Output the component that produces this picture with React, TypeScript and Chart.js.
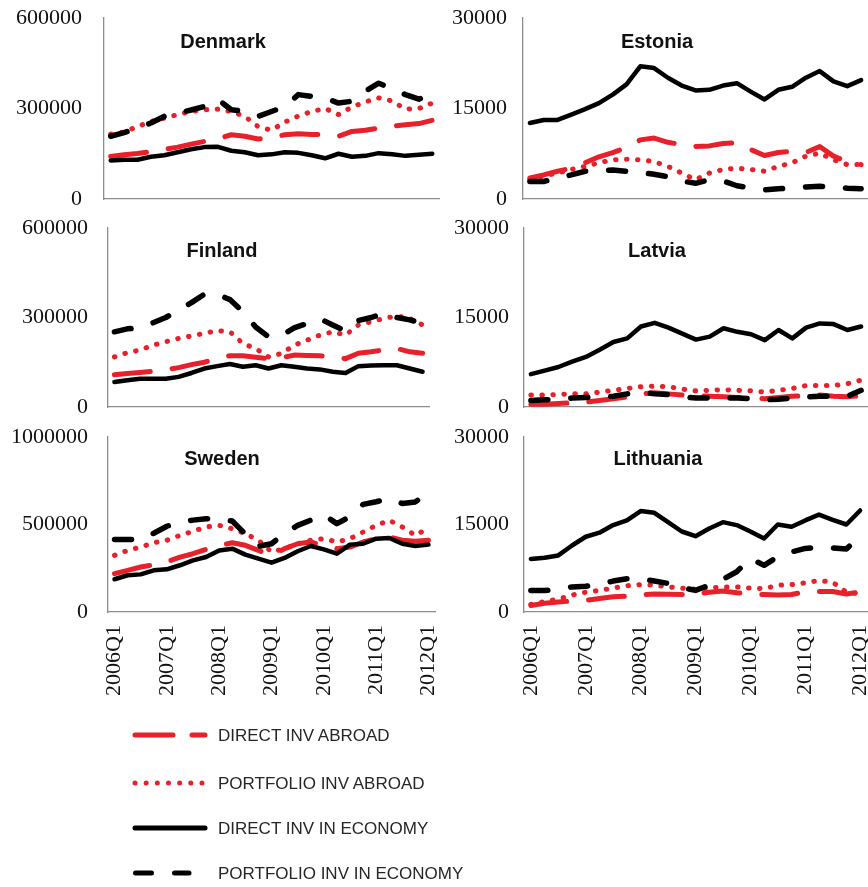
import React, { useEffect, useRef } from "react";
import { Chart, registerables } from "chart.js";

Chart.register(...registerables);

// ---------- DATA ----------
const QUARTERS = [
  "2006Q1", "2006Q2", "2006Q3", "2006Q4",
  "2007Q1", "2007Q2", "2007Q3", "2007Q4",
  "2008Q1", "2008Q2", "2008Q3", "2008Q4",
  "2009Q1", "2009Q2", "2009Q3", "2009Q4",
  "2010Q1", "2010Q2", "2010Q3", "2010Q4",
  "2011Q1", "2011Q2", "2011Q3", "2011Q4",
  "2012Q1",
];

const SERIES_NAMES = [
  "DIRECT INV ABROAD",
  "PORTFOLIO INV ABROAD",
  "DIRECT INV IN ECONOMY",
  "PORTFOLIO INV IN ECONOMY",
];

// Denmark
const DK_DIRECT_ABROAD = [141000, 147000, 151000, 157000, 164000, 172000, 182000, 191000, 200000, 213000, 208000, 199000, 203000, 213000, 216000, 214000, 213000, 208000, 224000, 228000, 235000, 241000, 246000, 250000, 261000];
const DK_PORTFOLIO_ABROAD = [215000, 222000, 240000, 257000, 268000, 280000, 290000, 296000, 298000, 290000, 274000, 240000, 228000, 255000, 275000, 290000, 300000, 280000, 305000, 322000, 335000, 325000, 298000, 300000, 318000];
const DK_DIRECT_ECONOMY = [128000, 130000, 130000, 140000, 145000, 155000, 165000, 172000, 173000, 160000, 155000, 145000, 148000, 155000, 153000, 145000, 135000, 150000, 140000, 143000, 152000, 148000, 143000, 147000, 150000];
const DK_PORTFOLIO_ECONOMY = [208000, 220000, 235000, 252000, 274000, 285000, 295000, 307000, 330000, 296000, 290000, 274000, 290000, 307000, 346000, 340000, 335000, 318000, 324000, 357000, 384000, 365000, 346000, 331000, 351000];

// Estonia
const EE_DIRECT_ABROAD = [3500, 4000, 4600, 5100, 6000, 7000, 7700, 8500, 9800, 10100, 9400, 9000, 8700, 8800, 9200, 9300, 8200, 7200, 7700, 7900, 7700, 8700, 7100, 6200, 5700];
const EE_PORTFOLIO_ABROAD = [3200, 3800, 4300, 4900, 5400, 6000, 6500, 6600, 6500, 6200, 5400, 4300, 3200, 4300, 4900, 5100, 4900, 4600, 5400, 6000, 7100, 7600, 6500, 5700, 5700];
const EE_DIRECT_ECONOMY = [12600, 13100, 13100, 14000, 14900, 15900, 17300, 19000, 22000, 21700, 20100, 18800, 18000, 18100, 18800, 19200, 17800, 16500, 18100, 18600, 20100, 21200, 19500, 18700, 19700];
const EE_PORTFOLIO_ECONOMY = [2900, 2900, 3500, 4000, 4600, 4700, 4800, 4600, 4400, 4100, 3700, 3000, 2600, 3200, 3000, 2200, 1800, 1500, 1700, 1800, 2000, 2100, 2000, 1800, 1700];

// Finland
const FI_DIRECT_ABROAD = [108000, 112000, 116000, 120000, 125000, 132000, 142000, 150000, 162000, 172000, 172000, 167000, 162000, 165000, 174000, 173000, 172000, 168000, 162000, 180000, 185000, 192000, 196000, 185000, 180000];
const FI_PORTFOLIO_ABROAD = [168000, 182000, 191000, 207000, 219000, 230000, 238000, 247000, 256000, 252000, 213000, 196000, 168000, 179000, 207000, 224000, 241000, 252000, 241000, 275000, 286000, 297000, 305000, 297000, 275000];
const FI_DIRECT_ECONOMY = [84000, 90000, 95000, 95000, 95000, 101000, 114000, 129000, 137000, 144000, 135000, 140000, 129000, 140000, 135000, 129000, 126000, 118000, 114000, 137000, 139000, 140000, 140000, 129000, 118000];
const FI_PORTFOLIO_ECONOMY = [252000, 262000, 265000, 282000, 300000, 325000, 350000, 378000, 378000, 360000, 320000, 268000, 235000, 240000, 265000, 280000, 296000, 275000, 255000, 290000, 300000, 315000, 300000, 292000, 280000];

// Latvia
const LV_DIRECT_ABROAD = [450, 450, 600, 700, 800, 1100, 1400, 1700, 2200, 2400, 2200, 2000, 1900, 1800, 1700, 1600, 1550, 1400, 1600, 1800, 1900, 2000, 1800, 1700, 1900];
const LV_PORTFOLIO_ABROAD = [2000, 2000, 2100, 2200, 2200, 2500, 2800, 3100, 3400, 3500, 3400, 3000, 2700, 2800, 2900, 2800, 2700, 2500, 2800, 3100, 3600, 3600, 3600, 3900, 4500];
const LV_DIRECT_ECONOMY = [5500, 6100, 6700, 7600, 8400, 9600, 10900, 11500, 13500, 14100, 13300, 12300, 11300, 11800, 13200, 12600, 12200, 11200, 12900, 11500, 13300, 14000, 13900, 12900, 13500];
const LV_PORTFOLIO_ECONOMY = [1100, 1200, 1300, 1500, 1600, 1700, 1800, 2200, 2500, 2200, 2100, 1700, 1500, 1500, 1500, 1500, 1400, 1200, 1300, 1500, 1700, 1800, 1800, 1800, 2800];

// Sweden
const SE_DIRECT_ABROAD = [219000, 238000, 257000, 270000, 286000, 314000, 333000, 358000, 380000, 396000, 381000, 352000, 324000, 362000, 390000, 400000, 377000, 362000, 371000, 400000, 419000, 429000, 410000, 404000, 410000];
const SE_PORTFOLIO_ABROAD = [324000, 352000, 371000, 396000, 410000, 438000, 461000, 486000, 495000, 476000, 448000, 410000, 343000, 362000, 390000, 410000, 419000, 400000, 419000, 457000, 495000, 524000, 486000, 438000, 480000];
const SE_DIRECT_ECONOMY = [187000, 210000, 215000, 238000, 244000, 267000, 295000, 314000, 352000, 362000, 328000, 305000, 282000, 309000, 347000, 377000, 358000, 333000, 385000, 390000, 419000, 423000, 390000, 377000, 385000];
const SE_PORTFOLIO_ECONOMY = [415000, 415000, 415000, 450000, 490000, 515000, 525000, 533000, 533000, 520000, 445000, 375000, 390000, 448000, 495000, 525000, 555000, 505000, 545000, 615000, 630000, 648000, 620000, 629000, 686000];

// Lithuania
const LT_DIRECT_ABROAD = [1100, 1500, 1700, 1900, 2000, 2300, 2600, 2700, 2900, 3100, 3050, 3000, 3000, 3400, 3600, 3300, 3100, 3000, 2900, 3000, 3500, 3500, 3500, 3100, 3400];
const LT_PORTFOLIO_ABROAD = [1300, 1800, 2200, 2900, 3400, 3700, 4100, 4500, 4700, 4600, 4300, 4100, 3900, 4100, 4300, 4300, 4100, 4000, 4600, 4700, 5000, 5400, 5100, 3400, 3100];
const LT_DIRECT_ECONOMY = [9100, 9300, 9700, 11400, 12900, 13600, 14900, 15700, 17300, 17000, 15400, 13800, 13000, 14300, 15400, 14900, 13800, 12600, 15000, 14600, 15700, 16700, 15800, 15000, 17400];
const LT_PORTFOLIO_ECONOMY = [3700, 3700, 3900, 4300, 4400, 4800, 5300, 5700, 5700, 5300, 4900, 4200, 3700, 4600, 5600, 6900, 9200, 8000, 9500, 10300, 10900, 11100, 11000, 10800, 13100];

// ---------- STYLE ----------
const RED = "#e8202a";
const BLACK = "#000000";
const AXIS = "#8c8c8c";
const TICK_FONT = "'Liberation Serif', 'Times New Roman', serif";
const SANS = "'Liberation Sans', Arial, sans-serif";

const STYLES = [
  { color: RED, width: 5, dash: [36, 22] },
  { color: RED, width: 5, dash: [0.5, 10.5] },
  { color: BLACK, width: 4.5, dash: [] as number[] },
  { color: BLACK, width: 5.5, dash: [17, 23] },
];

type Panel = {
  title: string;
  values: number[][];
  yMax: number;
  canvasLeft: number;
  canvasWidth: number;
  plotLeft: number;
  plotRight: number;
  plotTop: number;
  plotBottom: number;
  titleX: number;
  titleBaseline: number;
  showX: boolean;
  yPad: number;
};

const LEFT_W = 442;
const RIGHT_X = 442;
const RIGHT_W = 426;

const PANELS: Panel[] = [
  {
    title: "Denmark",
    values: [DK_DIRECT_ABROAD, DK_PORTFOLIO_ABROAD, DK_DIRECT_ECONOMY, DK_PORTFOLIO_ECONOMY],
    yMax: 600000, canvasLeft: 0, canvasWidth: LEFT_W,
    plotLeft: 104, plotRight: 439, plotTop: 18, plotBottom: 199,
    titleX: 223, titleBaseline: 48, showX: false, yPad: 22,
  },
  {
    title: "Estonia",
    values: [EE_DIRECT_ABROAD, EE_PORTFOLIO_ABROAD, EE_DIRECT_ECONOMY, EE_PORTFOLIO_ECONOMY],
    yMax: 30000, canvasLeft: RIGHT_X, canvasWidth: RIGHT_W,
    plotLeft: 523, plotRight: 868, plotTop: 18, plotBottom: 199,
    titleX: 657, titleBaseline: 48, showX: false, yPad: 16,
  },
  {
    title: "Finland",
    values: [FI_DIRECT_ABROAD, FI_PORTFOLIO_ABROAD, FI_DIRECT_ECONOMY, FI_PORTFOLIO_ECONOMY],
    yMax: 600000, canvasLeft: 0, canvasWidth: LEFT_W,
    plotLeft: 108, plotRight: 429, plotTop: 228, plotBottom: 407,
    titleX: 222, titleBaseline: 257, showX: false, yPad: 20,
  },
  {
    title: "Latvia",
    values: [LV_DIRECT_ABROAD, LV_PORTFOLIO_ABROAD, LV_DIRECT_ECONOMY, LV_PORTFOLIO_ECONOMY],
    yMax: 30000, canvasLeft: RIGHT_X, canvasWidth: RIGHT_W,
    plotLeft: 524, plotRight: 868, plotTop: 228, plotBottom: 407,
    titleX: 657, titleBaseline: 257, showX: false, yPad: 15,
  },
  {
    title: "Sweden",
    values: [SE_DIRECT_ABROAD, SE_PORTFOLIO_ABROAD, SE_DIRECT_ECONOMY, SE_PORTFOLIO_ECONOMY],
    yMax: 1000000, canvasLeft: 0, canvasWidth: LEFT_W,
    plotLeft: 108, plotRight: 435, plotTop: 437, plotBottom: 612,
    titleX: 222, titleBaseline: 465, showX: true, yPad: 20,
  },
  {
    title: "Lithuania",
    values: [LT_DIRECT_ABROAD, LT_PORTFOLIO_ABROAD, LT_DIRECT_ECONOMY, LT_PORTFOLIO_ECONOMY],
    yMax: 30000, canvasLeft: RIGHT_X, canvasWidth: RIGHT_W,
    plotLeft: 524, plotRight: 867, plotTop: 437, plotBottom: 612,
    titleX: 658, titleBaseline: 465, showX: true, yPad: 15,
  },
];

const TOP_PAD = 16;

function PanelChart({ p }: { p: Panel }) {
  const ref = useRef<HTMLCanvasElement>(null);
  const bottomH = p.showX ? 100 : 16;
  const canvasTop = p.plotTop - TOP_PAD;
  const canvasHeight = TOP_PAD + (p.plotBottom - p.plotTop) + bottomH;

  useEffect(() => {
    const canvas = ref.current;
    if (!canvas) return;
    const titlePlugin = {
      id: "panelTitle",
      afterDraw(chart: any) {
        const ctx = chart.ctx;
        ctx.save();
        ctx.font = `bold 20px ${SANS}`;
        ctx.fillStyle = "#111111";
        ctx.textAlign = "center";
        ctx.textBaseline = "alphabetic";
        ctx.fillText(p.title, p.titleX - p.canvasLeft, p.titleBaseline - canvasTop);
        ctx.restore();
      },
    };
    const chart = new Chart(canvas, {
      type: "line",
      data: {
        labels: QUARTERS,
        datasets: p.values.map((vals, k) => ({
          label: SERIES_NAMES[k],
          data: vals,
          borderColor: STYLES[k].color,
          backgroundColor: STYLES[k].color,
          borderWidth: STYLES[k].width,
          borderDash: STYLES[k].dash,
          borderCapStyle: "round",
          borderJoinStyle: "round",
          pointRadius: 0,
          pointHoverRadius: 0,
          tension: 0,
          fill: false,
          order: 4 - k,
        })),
      },
      options: {
        animation: false,
        responsive: false,
        events: [],
        layout: {
          padding: {
            top: TOP_PAD,
            left: 0,
            bottom: 0,
            right: p.canvasWidth - (p.plotRight - p.canvasLeft),
          },
        },
        plugins: {
          legend: { display: false },
          tooltip: { enabled: false },
          title: { display: false },
        },
        scales: {
          x: {
            type: "category",
            offset: true,
            grid: { display: false, drawTicks: false },
            border: { display: true, color: AXIS, width: 1.3 },
            ticks: p.showX
              ? {
                  display: true,
                  autoSkip: false,
                  maxRotation: 90,
                  minRotation: 90,
                  padding: 13,
                  color: "#111111",
                  font: { family: TICK_FONT, size: 22 },
                  callback: (_v: any, idx: number) => (idx % 4 === 0 ? QUARTERS[idx] : ""),
                }
              : { display: false },
            afterFit: (s: any) => {
              s.height = bottomH;
              s.paddingLeft = 0;
              s.paddingRight = 0;
              s.paddingTop = 0;
              s.paddingBottom = 0;
            },
          },
          y: {
            min: 0,
            max: p.yMax,
            grid: { display: false, drawTicks: false },
            border: { display: true, color: AXIS, width: 1.3 },
            ticks: {
              stepSize: p.yMax / 2,
              padding: p.yPad,
              color: "#111111",
              font: { family: TICK_FONT, size: 22 },
              callback: (v: any) => String(v),
            },
            afterFit: (s: any) => {
              s.width = p.plotLeft - p.canvasLeft;
              s.paddingTop = 0;
              s.paddingBottom = 0;
              s.paddingLeft = 0;
              s.paddingRight = 0;
            },
          },
        },
      } as any,
      plugins: [titlePlugin],
    });
    return () => chart.destroy();
  }, []);

  return (
    <canvas
      ref={ref}
      width={p.canvasWidth}
      height={canvasHeight}
      style={{
        position: "absolute",
        left: p.canvasLeft,
        top: canvasTop,
        width: p.canvasWidth,
        height: canvasHeight,
      }}
    />
  );
}

const LEGEND_ROWS_Y = [735, 783, 828, 873];

function Legend() {
  return (
    <>
      <svg
        width={868}
        height={887}
        style={{ position: "absolute", left: 0, top: 0, pointerEvents: "none" }}
      >
        <line x1={135} x2={205} y1={LEGEND_ROWS_Y[0]} y2={LEGEND_ROWS_Y[0]} stroke={RED} strokeWidth={5} strokeLinecap="round" strokeDasharray="38 19" />
        <line x1={135} x2={202} y1={LEGEND_ROWS_Y[1]} y2={LEGEND_ROWS_Y[1]} stroke={RED} strokeWidth={5} strokeLinecap="round" strokeDasharray="0.01 11.15" />
        <line x1={135} x2={205} y1={LEGEND_ROWS_Y[2]} y2={LEGEND_ROWS_Y[2]} stroke={BLACK} strokeWidth={5} strokeLinecap="round" />
        <line x1={135.5} x2={189} y1={LEGEND_ROWS_Y[3]} y2={LEGEND_ROWS_Y[3]} stroke={BLACK} strokeWidth={5} strokeLinecap="round" strokeDasharray="16 23" />
      </svg>
      {SERIES_NAMES.map((name, i) => (
        <div
          key={name}
          style={{
            position: "absolute",
            left: 218,
            top: LEGEND_ROWS_Y[i] - 9,
            fontFamily: SANS,
            fontSize: 17,
            lineHeight: "20px",
            color: "#262626",
            whiteSpace: "nowrap",
          }}
        >
          {name}
        </div>
      ))}
    </>
  );
}

export default function App() {
  return (
    <div
      style={{
        position: "absolute",
        left: 0,
        top: 0,
        width: 868,
        height: 887,
        background: "#ffffff",
        overflow: "hidden",
      }}
    >
      {PANELS.map((p) => (
        <PanelChart key={p.title} p={p} />
      ))}
      <Legend />
    </div>
  );
}
